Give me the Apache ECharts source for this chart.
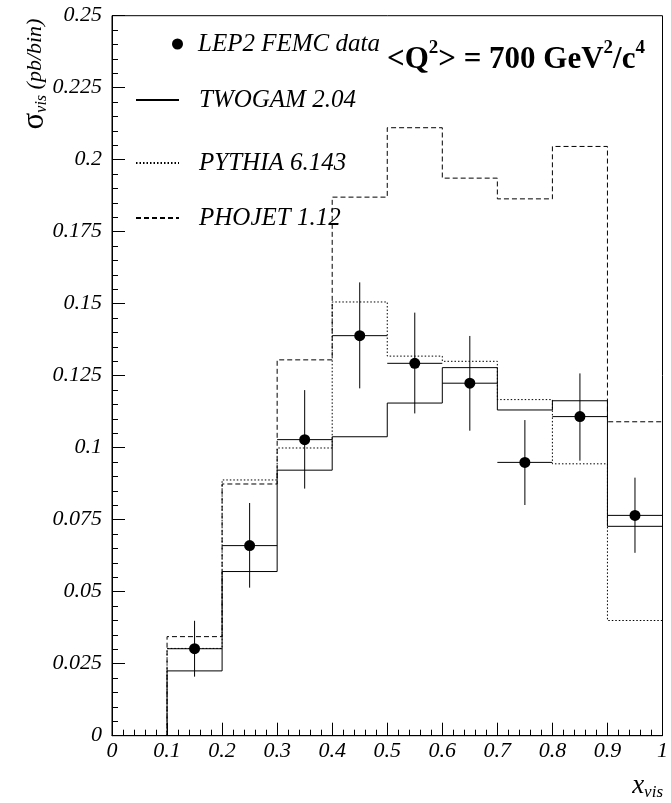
<!DOCTYPE html>
<html>
<head>
<meta charset="utf-8">
<title>sigma_vis vs x_vis</title>
<script src="https://cdn.jsdelivr.net/npm/echarts@6/dist/echarts.min.js"></script>
<style>
  html, body { margin: 0; padding: 0; background: #fff; }
  #chart { width: 671px; height: 803px; }
</style>
</head>
<body>
<div id="chart"></div>
<script>
// Bin edges in x_vis (histograms run from 0.1 to 1.0)
const binEdges = [0.1, 0.2, 0.3, 0.4, 0.5, 0.6, 0.7, 0.8, 0.9, 1.0];

// Monte Carlo predictions, pb per bin
const twogam = [0.0225, 0.0570, 0.0922, 0.1038, 0.1155, 0.1278, 0.1131, 0.1163, 0.0727];
const pythia = [0.0303, 0.0888, 0.0999, 0.1506, 0.1318, 0.1300, 0.1167, 0.0944, 0.0400];
const phojet = [0.0344, 0.0874, 0.1305, 0.1870, 0.2111, 0.1936, 0.1864, 0.2046, 0.1090];

// Measured cross section with error band limits
const dataValue = [0.0302, 0.0660, 0.1028, 0.1389, 0.1293, 0.1224, 0.0949, 0.1108, 0.0765];
const dataLow   = [0.0205, 0.0514, 0.0858, 0.1206, 0.1119, 0.1059, 0.0801, 0.0955, 0.0635];
const dataHigh  = [0.0399, 0.0808, 0.1200, 0.1574, 0.1469, 0.1388, 0.1096, 0.1258, 0.0896];

const serif = 'Liberation Serif';

// Step outline of a histogram, closed down to zero at both ends
function stepOutline(values) {
  const pts = [[binEdges[0], 0]];
  values.forEach((v, i) => {
    pts.push([binEdges[i], v]);
    pts.push([binEdges[i + 1], v]);
  });
  pts.push([binEdges[binEdges.length - 1], 0]);
  return pts;
}

const centers = dataValue.map((_, i) => (binEdges[i] + binEdges[i + 1]) / 2);
const pointData = dataValue.map((v, i) => [centers[i], v]);
const errorData = dataValue.map((v, i) =>
  [centers[i], v, dataLow[i], dataHigh[i], binEdges[i], binEdges[i + 1]]);

const lineSeries = (name, values, type) => ({
  name: name,
  type: 'line',
  data: stepOutline(values),
  symbol: 'none',
  silent: true,
  animation: false,
  itemStyle: { color: '#000' },
  lineStyle: { color: '#000', width: 1, type: type },
  z: 3
});

const legendText = {
  fontFamily: serif, fontStyle: 'italic', fontSize: 25, color: '#000', lineHeight: 30
};

// legend entry for one model curve: line only, no marker
const curveLegend = (name, top) => ({
  data: [name],
  left: 135, top: top, padding: 0, itemWidth: 43, itemHeight: 14,
  selectedMode: false,
  itemStyle: { opacity: 0 },
  textStyle: Object.assign({ padding: [0, 0, 0, 15] }, legendText)
});

const chart = echarts.init(document.getElementById('chart'), null, { renderer: 'canvas' });

chart.setOption({
  backgroundColor: '#fff',
  animation: false,
  grid: {
    left: 112, right: 8, top: 15.7, bottom: 67.3,
    show: true, borderColor: '#000', borderWidth: 1, backgroundColor: 'transparent'
  },
  xAxis: {
    type: 'value', min: 0, max: 1, interval: 0.1,
    axisLine: { show: true, onZero: false, lineStyle: { color: '#000', width: 1 } },
    axisTick: { show: true, inside: true, length: 13, lineStyle: { color: '#000' } },
    minorTick: { show: true, splitNumber: 5, length: 6, lineStyle: { color: '#000' } },
    splitLine: { show: false },
    axisLabel: {
      fontFamily: serif, fontStyle: 'italic', fontSize: 22, color: '#000', margin: 5,
      showMinLabel: true, showMaxLabel: true
    }
  },
  yAxis: {
    type: 'value', min: 0, max: 0.25, interval: 0.025,
    axisLine: { show: true, onZero: false, lineStyle: { color: '#000', width: 1 } },
    axisTick: { show: true, inside: true, length: 13, lineStyle: { color: '#000' } },
    minorTick: { show: true, splitNumber: 5, length: 6, lineStyle: { color: '#000' } },
    splitLine: { show: false },
    axisLabel: {
      fontFamily: serif, fontStyle: 'italic', fontSize: 22, color: '#000', margin: 10,
      showMinLabel: true, showMaxLabel: true
    }
  },
  legend: [
    {
      data: [{ name: 'LEP2 FEMC data', icon: 'circle' }],
      left: 172, top: 29, padding: 0, itemWidth: 11, itemHeight: 11,
      selectedMode: false,
      itemStyle: { color: '#000', opacity: 1 },
      textStyle: Object.assign({ padding: [0, 0, 0, 10] }, legendText)
    },
    curveLegend('TWOGAM 2.04', 85),
    curveLegend('PYTHIA 6.143', 148),
    curveLegend('PHOJET 1.12', 203)
  ],
  graphic: [
    {
      // vertical axis title
      type: 'text', x: 35, y: 74, rotation: Math.PI / 2, silent: true,
      style: {
        text: '{s|σ}{sub|vis}{t| (pb/bin)}',
        textAlign: 'center', verticalAlign: 'middle',
        rich: {
          s: { fontFamily: serif, fontSize: 31, fill: '#000', lineHeight: 30, verticalAlign: 'middle' },
          sub: { fontFamily: serif, fontStyle: 'italic', fontSize: 16, fill: '#000', lineHeight: 30, verticalAlign: 'bottom' },
          t: { fontFamily: serif, fontStyle: 'italic', fontSize: 22, fill: '#000', lineHeight: 30 }
        }
      }
    },
    {
      // horizontal axis title
      type: 'text', x: 663, y: 786, silent: true,
      style: {
        text: '{x|x}{sub|vis}',
        textAlign: 'right', verticalAlign: 'middle',
        rich: {
          x: { fontFamily: serif, fontStyle: 'italic', fontSize: 27, fill: '#000', lineHeight: 30 },
          sub: { fontFamily: serif, fontStyle: 'italic', fontSize: 17, fill: '#000', lineHeight: 24, verticalAlign: 'bottom' }
        }
      }
    },
    {
      // mean virtuality
      type: 'text', x: 387, y: 60, silent: true,
      style: {
        text: '{m|<Q}{s|2}{m|> = 700 GeV}{s|2}{m|/c}{s|4}',
        textAlign: 'left', verticalAlign: 'middle',
        rich: {
          m: { fontFamily: serif, fontWeight: 'bold', fontSize: 31, fill: '#000', lineHeight: 42 },
          s: { fontFamily: serif, fontWeight: 'bold', fontSize: 19, fill: '#000', lineHeight: 19, verticalAlign: 'top' }
        }
      }
    }
  ],
  series: [
    lineSeries('TWOGAM 2.04', twogam, 'solid'),
    lineSeries('PYTHIA 6.143', pythia, [1.5, 2]),
    lineSeries('PHOJET 1.12', phojet, [5, 3]),
    {
      name: 'error bars',
      type: 'custom',
      data: errorData,
      encode: { x: 0, y: 1 },
      silent: true,
      z: 4,
      renderItem: function (params, api) {
        const c = api.coord([api.value(0), api.value(1)]);
        const lo = api.coord([api.value(0), api.value(2)]);
        const hi = api.coord([api.value(0), api.value(3)]);
        const x0 = api.coord([api.value(4), api.value(1)]);
        const x1 = api.coord([api.value(5), api.value(1)]);
        const st = { stroke: '#000', lineWidth: 1 };
        return {
          type: 'group',
          children: [
            { type: 'line', shape: { x1: c[0], y1: hi[1], x2: c[0], y2: lo[1] }, style: st },
            { type: 'line', shape: { x1: x0[0], y1: c[1], x2: x1[0], y2: c[1] }, style: st }
          ]
        };
      }
    },
    {
      name: 'LEP2 FEMC data',
      type: 'scatter',
      data: pointData,
      symbol: 'circle',
      symbolSize: 11,
      itemStyle: { color: '#000', opacity: 1 },
      silent: true,
      z: 5
    }
  ]
});
</script>
</body>
</html>
